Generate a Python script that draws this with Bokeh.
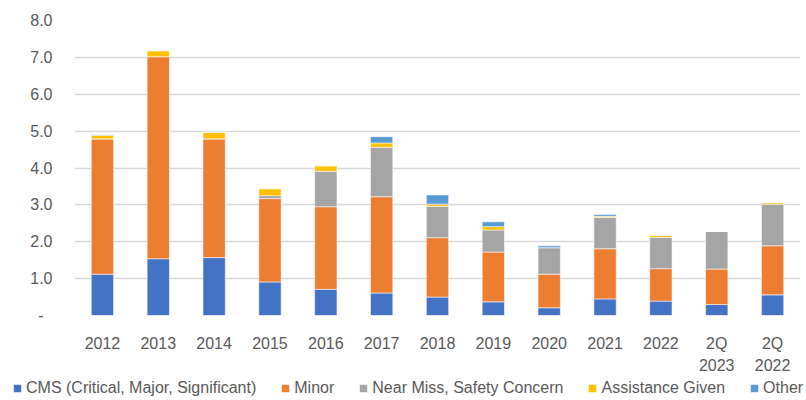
from bokeh.plotting import figure
from bokeh.models import (FixedTicker, CustomJSTickFormatter, Legend, LegendItem, LinearAxis)
from bokeh.embed import file_html
from bokeh.resources import INLINE

categories = ["2012", "2013", "2014", "2015", "2016", "2017", "2018", "2019",
              "2020", "2021", "2022", "2Q 2023", "2Q 2022"]
cms    = [1.12, 1.54, 1.57, 0.91, 0.71, 0.61, 0.50, 0.37, 0.21, 0.45, 0.39, 0.30, 0.56]
minor  = [3.67, 5.48, 3.22, 2.26, 2.24, 2.61, 1.61, 1.35, 0.91, 1.36, 0.88, 0.96, 1.33]
near   = [0.00, 0.00, 0.00, 0.08, 0.96, 1.34, 0.85, 0.60, 0.72, 0.85, 0.85, 1.02, 1.13]
assist = [0.10, 0.16, 0.18, 0.19, 0.15, 0.12, 0.06, 0.09, 0.00, 0.03, 0.05, 0.00, 0.04]
other  = [0.01, 0.00, 0.00, 0.00, 0.00, 0.17, 0.25, 0.13, 0.05, 0.05, 0.00, 0.00, 0.00]

series_names = ["CMS (Critical, Major, Significant)", "Minor",
                "Near Miss, Safety Concern", "Assistance Given", "Other"]
series_keys = ["cms", "minor", "near", "assist", "other"]
colors = ["#4472C4", "#ED7D31", "#A5A5A5", "#FFC000", "#5B9BD5"]
y_ticks = [0, 1, 2, 3, 4, 5, 6, 7, 8]

idx = list(range(len(categories)))
data = dict(x=idx, cms=cms, minor=minor, near=near, assist=assist, other=other)

FONT = "Liberation Sans"
FSIZE = "16px"
GRAY = "#595959"

p = figure(x_range=(-0.5, len(categories) - 0.5), y_range=(0, 8),
           width=806, height=376, output_backend="svg", toolbar_location=None,
           min_border_left=74, min_border_right=6, min_border_top=20,
           min_border_bottom=61, x_axis_location=None)
p.outline_line_color = None

rs = p.vbar_stack(series_keys, x="x", width=0.4, source=data, color=colors,
                  line_color="white", line_width=0.8, line_alpha=0.7)

p.xgrid.grid_line_color = None
p.ygrid.grid_line_color = "#D9D9D9"
p.ygrid.grid_line_width = 1.5
p.ygrid.ticker = FixedTicker(ticks=y_ticks)

p.yaxis.ticker = FixedTicker(ticks=y_ticks)
p.yaxis.formatter = CustomJSTickFormatter(
    code="return tick == 0 ? '-\u00a0\u00a0' : tick.toFixed(1);")

line1 = {i: c.split(" ")[0] for i, c in enumerate(categories)}
line2 = {i: (c.split(" ")[1] if " " in c else "\u00a0") for i, c in enumerate(categories)}
ax1 = LinearAxis(ticker=FixedTicker(ticks=idx), major_label_overrides=line1,
                 major_label_standoff=19)
ax2 = LinearAxis(ticker=FixedTicker(ticks=idx), major_label_overrides=line2,
                 major_label_standoff=2)
p.add_layout(ax1, "below")
p.add_layout(ax2, "below")

for ax in (ax1, ax2, p.yaxis[0]):
    ax.axis_line_color = None
    ax.major_tick_line_color = None
    ax.minor_tick_line_color = None
    ax.major_tick_out = 0
    ax.major_tick_in = 0
    ax.major_label_text_font = FONT
    ax.major_label_text_font_size = FSIZE
    ax.major_label_text_color = GRAY
p.yaxis.major_label_standoff = 22

# legend strip: a separate root whose frame spans the full width;
# its renderers are hidden, only their legend swatches are shown
pl = figure(width=806, height=24, output_backend="svg", toolbar_location=None,
            x_range=(-0.5, len(categories) - 0.5), y_range=(0, 8), min_border=0,
            x_axis_location=None, y_axis_location=None)
pl.outline_line_color = None
pl.xgrid.grid_line_color = None
pl.ygrid.grid_line_color = None
swatches = pl.vbar_stack(series_keys, x="x", width=0.4, source=data, color=colors,
                         line_color="white", line_width=0.8, line_alpha=0.7)
for r in swatches:
    r.visible = False
legend = Legend(items=[LegendItem(label=n, renderers=[r]) for n, r in zip(series_names, swatches)],
                orientation="horizontal", location=(12, 3),
                glyph_width=10, glyph_height=10, label_standoff=4, spacing=24,
                label_text_font=FONT, label_text_font_size=FSIZE,
                label_text_color=GRAY, label_height=16,
                padding=0, margin=0, border_line_color=None,
                background_fill_alpha=0, inactive_fill_alpha=0)
pl.add_layout(legend)

open("out.html", "w").write(file_html([p, pl], INLINE))
